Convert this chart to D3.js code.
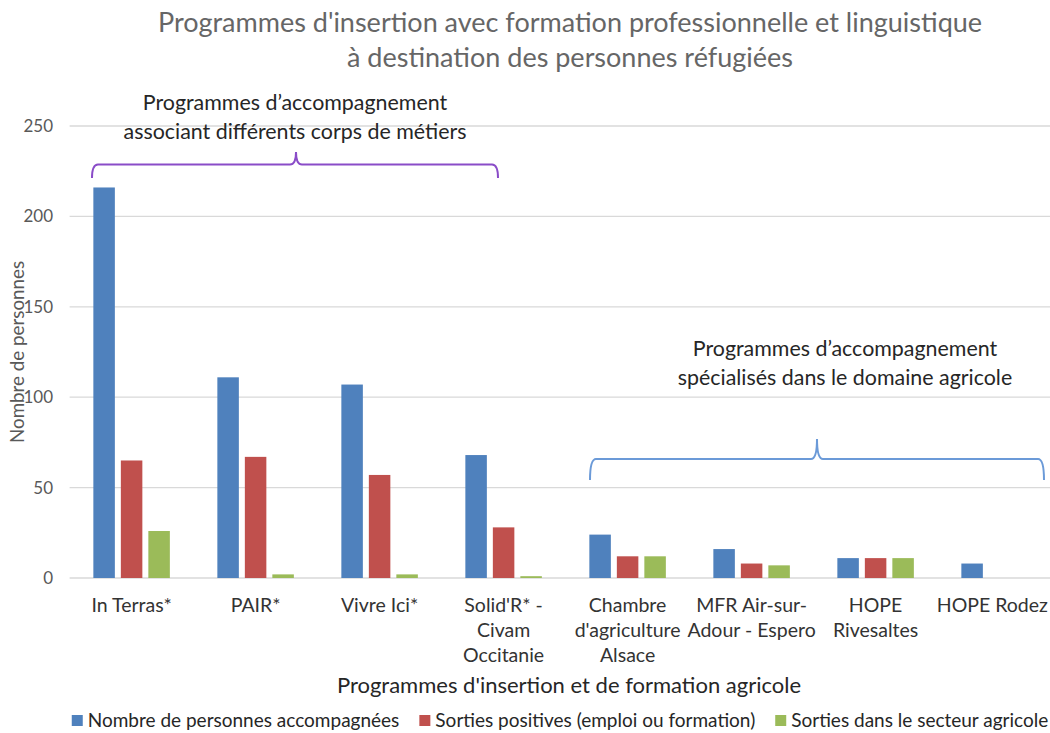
<!DOCTYPE html>
<html lang="fr">
<head>
<meta charset="UTF-8">
<title>Programmes d'insertion</title>
<script src="https://d3js.org/d3.v7.min.js"></script>
<style>
  body { margin: 0; background: #fff; }
  svg { display: block; font-family: Lato, "Open Sans", sans-serif; }
</style>
</head>
<body>
<svg width="1050" height="733"></svg>
<script>
  // données
  const categories = ["In Terras*", "PAIR*", "Vivre Ici*", "Solid'R* - Civam Occitanie",
    "Chambre d'agriculture Alsace", "MFR Air-sur-Adour - Espero", "HOPE Rivesaltes", "HOPE Rodez"];
  const categoryLines = [["In Terras*"], ["PAIR*"], ["Vivre Ici*"], ["Solid'R* -", "Civam", "Occitanie"],
    ["Chambre", "d'agriculture", "Alsace"], ["MFR Air-sur-", "Adour - Espero"], ["HOPE", "Rivesaltes"], ["HOPE Rodez"]];
  const seriesNames = ["Nombre de personnes accompagnées", "Sorties positives (emploi ou formation)",
    "Sorties dans le secteur agricole"];
  const accompagnees = [216, 111, 107, 68, 24, 16, 11, 8];
  const sortiesPositives = [65, 67, 57, 28, 12, 8, 11, 0];
  const sortiesAgricoles = [26, 2, 2, 1, 12, 7, 11, 0];
  const yTicks = [0, 50, 100, 150, 200, 250];
  const colors = ["#4f81bd", "#c0504d", "#9bbb59"];

  const series = [accompagnees, sortiesPositives, sortiesAgricoles];
  const rows = categories.map((c, i) => ({ cat: c, values: series.map((s, k) => ({ key: k, value: s[i] })) }));

  const svg = d3.select("svg");

  // échelles
  const x0 = d3.scaleBand().domain(categories).range([69.6, 1061.6]).padding(0);
  const x1 = d3.scaleBand().domain([0, 1, 2]).range([23.75, 100.25]).paddingInner(0.218).paddingOuter(0);
  const y = d3.scaleLinear().domain([0, 250]).range([578, 126]);

  // grille
  svg.append("g")
    .selectAll("line")
    .data(yTicks)
    .join("line")
    .attr("x1", 69.6).attr("x2", 1050)
    .attr("y1", d => y(d)).attr("y2", d => y(d))
    .attr("stroke", "#d9d9d9").attr("stroke-width", 1.3);

  // axe y
  svg.append("g")
    .selectAll("text")
    .data(yTicks)
    .join("text")
    .attr("x", 53).attr("y", d => y(d) + 6)
    .attr("text-anchor", "end")
    .attr("font-size", 17).attr("fill", "#595959")
    .text(d => d);

  svg.append("text")
    .attr("transform", "translate(24,352) rotate(-90)")
    .attr("text-anchor", "middle")
    .attr("font-size", 18.8).attr("fill", "#595959")
    .text("Nombre de personnes");

  // barres
  svg.append("g")
    .selectAll("g")
    .data(rows)
    .join("g")
    .attr("transform", d => `translate(${x0(d.cat)},0)`)
    .selectAll("rect")
    .data(d => d.values)
    .join("rect")
    .attr("x", d => x1(d.key))
    .attr("width", x1.bandwidth())
    .attr("y", d => y(d.value))
    .attr("height", d => y(0) - y(d.value))
    .attr("fill", d => colors[d.key]);

  // libellés des catégories
  const labels = svg.append("g")
    .selectAll("text")
    .data(categories)
    .join("text")
    .attr("text-anchor", "middle")
    .attr("font-size", 19.5).attr("fill", "#333");
  labels.each(function(d, i) {
    const t = d3.select(this);
    let cx = x0(d) + x0.bandwidth() / 2;
    categoryLines[i].forEach((line, j) => {
      t.append("tspan").attr("x", cx).attr("y", 612 + j * 25).text(line);
    });
    // garder le libellé dans la zone visible
    const w = this.getBBox().width;
    if (cx + w / 2 > 1048) {
      cx = 1048 - w / 2;
      t.selectAll("tspan").attr("x", cx);
    }
  });

  svg.append("text")
    .attr("x", 569).attr("y", 693)
    .attr("text-anchor", "middle")
    .attr("font-size", 22).attr("fill", "#262626")
    .text("Programmes d'insertion et de formation agricole");

  // titre
  svg.append("text")
    .attr("text-anchor", "middle")
    .attr("font-size", 27).attr("fill", "#666")
    .selectAll("tspan")
    .data(["Programmes d'insertion avec formation professionnelle et linguistique",
      "à destination des personnes réfugiées"])
    .join("tspan")
    .attr("x", 570).attr("y", (d, i) => 32 + i * 35)
    .text(d => d);

  // accolades et annotations
  function brace(x0p, x1p, yLine, yEnd, yTip, xm, color) {
    const r = 6;
    const p = d3.path();
    p.moveTo(x0p, yEnd);
    p.quadraticCurveTo(x0p, yLine, x0p + r, yLine);
    p.lineTo(xm - r, yLine);
    p.quadraticCurveTo(xm, yLine, xm, yTip);
    p.quadraticCurveTo(xm, yLine, xm + r, yLine);
    p.lineTo(x1p - r, yLine);
    p.quadraticCurveTo(x1p, yLine, x1p, yEnd);
    svg.append("path").attr("d", p.toString())
      .attr("fill", "none").attr("stroke", color).attr("stroke-width", 2);
  }
  brace(92, 498, 164.5, 178, 152, 296, "#8a4cc8");
  brace(590, 1044, 459, 480, 439, 817, "#6b9ad8");

  function note(cx, yy, lines) {
    svg.append("text")
      .attr("text-anchor", "middle")
      .attr("font-size", 21.4).attr("fill", "#262626")
      .selectAll("tspan")
      .data(lines)
      .join("tspan")
      .attr("x", cx).attr("y", (d, i) => yy + i * 29)
      .text(d => d);
  }
  note(295, 110, ["Programmes d’accompagnement", "associant différents corps de métiers"]);
  note(845, 356, ["Programmes d’accompagnement", "spécialisés dans le domaine agricole"]);

  // légende
  const legend = svg.append("g").attr("font-size", 19).attr("fill", "#262626");
  let lx = 0;
  seriesNames.forEach((name, i) => {
    const g = legend.append("g").attr("transform", `translate(${lx},0)`);
    g.append("rect").attr("x", 0).attr("y", -12).attr("width", 11).attr("height", 11).attr("fill", colors[i]);
    const t = g.append("text").attr("x", 16).attr("y", 0).text(name);
    lx += 16 + t.node().getComputedTextLength() + 20;
  });
  lx -= 20;
  legend.attr("transform", `translate(${560 - lx / 2},727)`);
</script>
</body>
</html>
